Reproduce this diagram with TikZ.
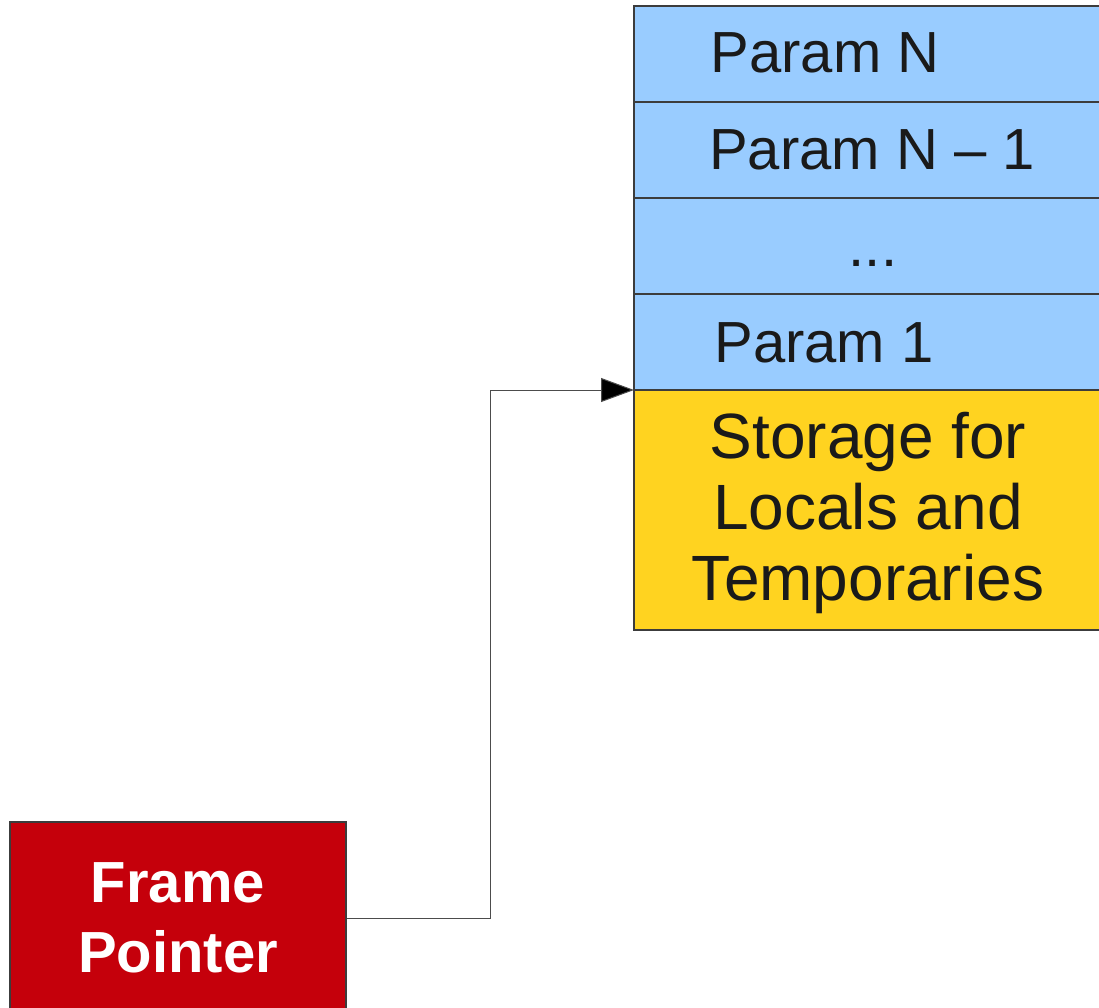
\documentclass[tikz,border=0pt]{standalone}
\usepackage{fontspec}
\setmainfont{Liberation Sans}
\usetikzlibrary{arrows.meta}
\definecolor{stackblue}{HTML}{99CCFF}
\definecolor{stackyellow}{HTML}{FFD320}
\definecolor{fpred}{HTML}{C5000B}
\definecolor{edge}{HTML}{3C3C3C}
\definecolor{txt}{HTML}{1A1A1A}
\tikzset{
  cell/.style={draw=edge, line width=1.5pt, minimum width=476pt, inner sep=0pt, outer sep=0pt},
  prow/.style={cell, fill=stackblue, minimum height=96pt},
  lbl/.style={inner sep=0pt, text=txt, font=\fontsize{58}{66}\selectfont},
  biglbl/.style={inner sep=0pt, text=txt, align=center, font=\fontsize{64}{71}\selectfont},
  fpbox/.style={draw=edge, line width=1.5pt, fill=fpred, minimum width=336pt, minimum height=192pt,
     inner sep=0pt, text=white, align=center, font=\bfseries\fontsize{58}{70}\selectfont},
  conn/.style={draw=black!70, line width=1pt, -{Triangle[length=33pt,width=24pt,fill=black]}}
}
\begin{document}
\begin{tikzpicture}[x=1pt,y=-1pt]
\useasboundingbox (0,0) rectangle (1099,1008);
\clip (0,0) rectangle (1099,1008);
\fill[white] (0,0) rectangle (1099,1008);
% stack cells
\node[prow] (pN) at (872,54) {};
\node[prow] (pN1) at (872,150) {};
\node[prow] (pdots) at (872,246) {};
\node[prow] (p1) at (872,342) {};
\node[cell, fill=stackyellow, minimum height=240pt] (store) at (872,510) {};
% labels
\node[lbl, anchor=base] (tN) at (825,73) {Param N};
\node[lbl, anchor=base] (tN1) at (872,170) {Param N – 1};
\node[lbl, anchor=base] (tdots) at (873,266) {...};
\node[lbl, anchor=base] (t1) at (824,362) {Param 1};
\node[biglbl] (tstore) at (868,513) {Storage for\\Locals and\\Temporaries};
% frame pointer
\node[fpbox] (fp) at (178,918) {Frame\\Pointer};
% connector
\draw[conn] (fp.east) -- ++(144,0) |- (p1.south west);
\end{tikzpicture}
\end{document}
